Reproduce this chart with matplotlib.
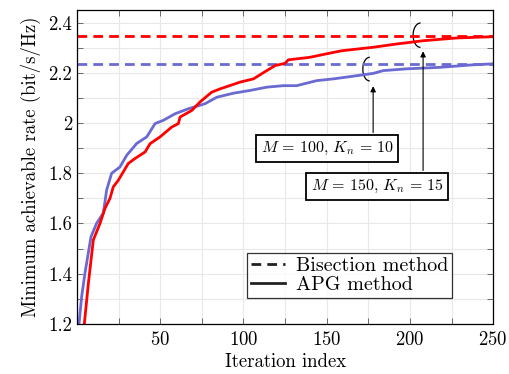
import matplotlib
matplotlib.use('Agg')
import matplotlib.pyplot as plt
from matplotlib.patches import Arc
from matplotlib.lines import Line2D
from matplotlib.ticker import MultipleLocator

plt.rcParams['font.family'] = 'serif'
plt.rcParams['font.serif'] = ['cmr10']
plt.rcParams['mathtext.fontset'] = 'cm'
plt.rcParams['axes.formatter.use_mathtext'] = True

# APG method, M=100, Kn=10 (blue)
apg_blue_x = [0.5, 1.2, 2.8, 4.8, 8.4, 11.8, 15.8, 17.8, 20.8, 25.8, 29.9, 35.9, 41.9, 46.9,
              51.9, 58.9, 66.9, 76.9, 84, 94, 104, 114, 124, 132, 144, 154, 164, 178,
              184, 198, 218, 238, 250]
apg_blue_y = [1.15, 1.2, 1.309, 1.403, 1.547, 1.601, 1.641, 1.733, 1.80, 1.825, 1.872, 1.919,
              1.945, 1.998, 2.011, 2.037, 2.057, 2.077, 2.103, 2.119, 2.13, 2.143, 2.149,
              2.149, 2.169, 2.176, 2.185, 2.198, 2.209, 2.216, 2.222, 2.232, 2.236]

# APG method, M=150, Kn=15 (red)
apg_red_x = [3.8, 4.4, 6.8, 9.8, 13.8, 16.8, 19.8, 21.8, 24.8, 30.8, 34.9, 40.9, 43.9, 49.9,
             56.9, 60.9, 61.9, 68.9, 73.9, 80.9, 85.9, 97.9, 106, 114, 119, 125, 127,
             140, 150, 159, 178, 192, 208, 228, 250]
apg_red_y = [1.15, 1.2, 1.36, 1.534, 1.60, 1.66, 1.70, 1.746, 1.772, 1.839, 1.859, 1.885,
             1.918, 1.945, 1.984, 1.998, 2.024, 2.05, 2.084, 2.123, 2.136, 2.163, 2.176,
             2.209, 2.229, 2.238, 2.252, 2.262, 2.276, 2.288, 2.302, 2.315, 2.328, 2.339,
             2.344]

# bisection method levels
bis_blue = 2.236
bis_red = 2.348

blue = '#6a6ad2'
red = '#ff0000'

fig = plt.figure(figsize=(5.1, 3.74), dpi=100)
ax = fig.add_axes([0.151, 0.134, 0.816, 0.839])

ax.axhline(bis_red, color=red, lw=2, dashes=(3.5, 2.2))
ax.axhline(bis_blue, color=blue, lw=2, dashes=(3.5, 2.2))
ax.plot(apg_blue_x, apg_blue_y, color=blue, lw=2)
ax.plot(apg_red_x, apg_red_y, color=red, lw=2)

ax.set_xlim(0, 250)
ax.set_ylim(1.2, 2.45)
ax.xaxis.set_minor_locator(MultipleLocator(25))
ax.yaxis.set_minor_locator(MultipleLocator(0.1))
ax.set_xticks([50, 100, 150, 200, 250])
ax.set_yticks([1.2, 1.4, 1.6, 1.8, 2.0, 2.2, 2.4])
ax.set_yticklabels(['1.2', '1.4', '1.6', '1.8', '2', '2.2', '2.4'])
ax.tick_params(which='both', direction='in', top=True, right=True, length=4,
               width=0.6, color='#555555', labelsize=13.5)
ax.tick_params(axis='x', pad=5)
ax.grid(which='both', color='#e8e8e8', lw=0.8)
ax.set_axisbelow(True)
for s in ax.spines.values():
    s.set_linewidth(0.9)

ax.set_xlabel('Iteration index', fontsize=13.5, labelpad=3)
ax.set_ylabel('Minimum achievable rate (bit/s/Hz)', fontsize=13.5, labelpad=5)

# ellipse markers
ax.add_patch(Arc((175.8, 2.215), 8.2, 0.094, theta1=30, theta2=300, color='black', lw=0.9))
ax.add_patch(Arc((206.3, 2.35), 8.8, 0.097, theta1=30, theta2=300, color='black', lw=0.9))

# arrows
ax.annotate('', xy=(177.9, 2.158), xytext=(177.9, 1.951),
            arrowprops=dict(arrowstyle='-|>', color='black', lw=0.8, mutation_scale=8))
ax.annotate('', xy=(207.9, 2.297), xytext=(207.9, 1.80),
            arrowprops=dict(arrowstyle='-|>', color='black', lw=0.8, mutation_scale=8))

box = dict(boxstyle='square,pad=0.3', fc='white', ec='black', lw=1.3)
ax.text(150.2, 1.899, r'$M\,=\,100,\,K_n\,=\,10$', ha='center', va='center',
        fontsize=11.5, bbox=box)
ax.text(180.3, 1.748, r'$M\,=\,150,\,K_n\,=\,15$', ha='center', va='center',
        fontsize=11.5, bbox=box)

handles = [Line2D([], [], color='#222222', lw=2, dashes=(3.5, 2.2)),
           Line2D([], [], color='#222222', lw=2)]
leg = ax.legend(handles, ['Bisection method', 'APG method'], loc='lower left',
                bbox_to_anchor=(0.409, 0.083), fontsize=14.5, frameon=True, fancybox=False,
                handlelength=1.7, handletextpad=0.5, borderpad=0.2, labelspacing=0.05,
                borderaxespad=0)
leg.get_frame().set_edgecolor('black')
leg.get_frame().set_linewidth(0.9)

fig.savefig('out.png', dpi=100)
